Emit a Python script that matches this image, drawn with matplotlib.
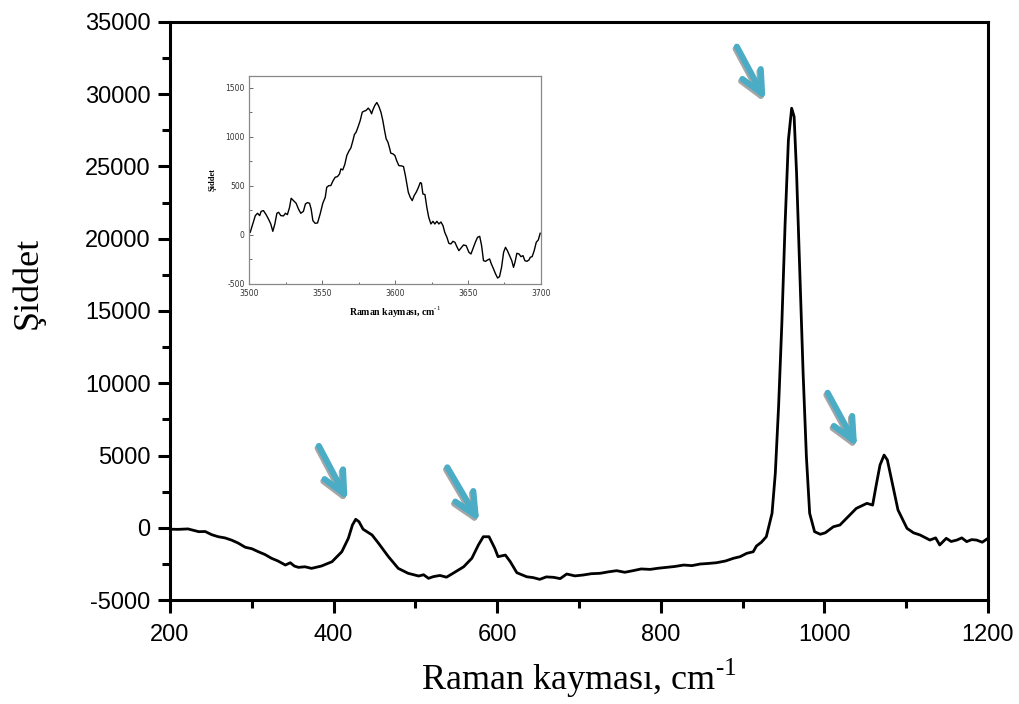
import matplotlib
matplotlib.use("Agg")
import matplotlib.pyplot as plt
import matplotlib.transforms as mtransforms
from matplotlib.ticker import MultipleLocator

plt.rcParams["axes.unicode_minus"] = False
plt.rcParams["mathtext.fontset"] = "custom"
plt.rcParams["mathtext.rm"] = "Liberation Serif"

# ana spektrum (okunan degerler)
raman_x = [200, 210, 222, 235, 243, 251, 259, 267, 275, 283, 292, 300, 308, 316,
           324, 332, 341, 347, 352, 357, 365, 373, 385, 398, 410, 418, 423, 427,
           431, 436, 447, 455, 467, 479, 491, 504, 510, 516, 522, 530, 538, 546,
           559, 569, 577, 583, 590, 597, 601, 610, 616, 624, 636, 644, 652, 660,
           669, 677, 685, 695, 705, 715, 726, 736, 746, 756, 766, 776, 787, 797,
           807, 817, 828, 838, 848, 858, 868, 879, 889, 897, 905, 913, 917, 923,
           929, 936, 940, 944, 948, 952, 956, 960, 963, 966, 970, 974, 978, 982,
           988, 995, 1001, 1011, 1019, 1027, 1039, 1052, 1059, 1063, 1068, 1073,
           1077, 1083, 1090, 1101, 1109, 1117, 1129, 1136, 1141, 1149, 1155, 1162,
           1168, 1174, 1180, 1186, 1193, 1200]
raman_y = [-100, -110, -80, -270, -260, -480, -620, -700, -850, -1050, -1350,
           -1450, -1660, -1850, -2110, -2300, -2580, -2420, -2650, -2740, -2700,
           -2810, -2650, -2350, -1660, -730, 190, 585, 420, -100, -500, -1080,
           -2000, -2810, -3150, -3340, -3250, -3500, -3380, -3300, -3420, -3150,
           -2700, -2110, -1190, -620, -620, -1420, -2000, -1890, -2350, -3110,
           -3390, -3450, -3570, -3400, -3430, -3520, -3200, -3330, -3270, -3180,
           -3150, -3050, -2970, -3080, -2970, -2850, -2880, -2800, -2740, -2680,
           -2580, -2620, -2510, -2470, -2420, -2300, -2110, -2000, -1770, -1660,
           -1260, -1000, -620, 1000, 3770, 8380, 14150, 21070, 26830, 29030,
           28450, 24530, 17610, 10690, 4920, 1000, -270, -450, -350, 70, 190, 650,
           1340, 1690, 1570, 2840, 4340, 5030, 4690, 3080, 1230, -40, -350, -500,
           -850, -700, -1190, -730, -950, -850, -700, -960, -820, -850, -1000,
           -730]

# iç grafik (3500-3700 cm-1)
inset_x = [3500.5, 3504, 3505.5, 3507, 3508, 3509.6, 3511.4, 3513, 3514.6, 3516,
           3517.4, 3518.8, 3520, 3521.5, 3523.3, 3524.7, 3526, 3527.5, 3528.6,
           3530.2, 3532, 3533.6, 3535.2, 3537, 3538.4, 3539.8, 3541.2, 3542.3,
           3543.5, 3545, 3546.7, 3548.5, 3550.3, 3552, 3553, 3554.5, 3555.8,
           3557.2, 3558.8, 3560.4, 3561.8, 3562.7, 3564, 3565.4, 3566.8, 3568.2,
           3569.6, 3571, 3572, 3573.2, 3574.6, 3576, 3577.4, 3578.7, 3580,
           3581.5, 3582.8, 3583.8, 3584.7, 3586, 3587.4, 3588.8, 3590.2, 3591.5,
           3592.7, 3593.8, 3595, 3596.1, 3597, 3598.4, 3599.8, 3601, 3602.5,
           3604.3, 3605.7, 3607, 3608, 3609, 3610.3, 3611.7, 3613, 3614.4,
           3615.8, 3617.2, 3618, 3619, 3620.4, 3621.7, 3623, 3624.5, 3625.9,
           3627.2, 3628.6, 3630, 3631.4, 3632.8, 3634, 3635.5, 3636.8, 3638.2,
           3639.6, 3641, 3642.3, 3643.7, 3645, 3646.9, 3648.7, 3650.6, 3652,
           3653.3, 3655, 3656.5, 3658, 3659.3, 3660.6, 3662, 3663.4, 3664.8,
           3666, 3667.5, 3668.9, 3670.3, 3671.6, 3673, 3674.4, 3675.7, 3677,
           3678.5, 3680, 3681.2, 3682.2, 3683.5, 3685, 3686.3, 3687.7, 3689,
           3690.4, 3691.8, 3692.7, 3694, 3695.4, 3696.8, 3698.2, 3699.5]
inset_y = [27, 197, 221, 197, 241, 248, 207, 163, 112, 37, 112, 221, 231, 197,
           194, 221, 207, 282, 374, 350, 323, 265, 221, 241, 316, 330, 323, 265,
           146, 119, 122, 214, 323, 384, 486, 503, 503, 548, 588, 595, 622, 673,
           663, 718, 810, 854, 888, 963, 1024, 1048, 1105, 1167, 1252, 1262,
           1269, 1293, 1269, 1235, 1276, 1320, 1350, 1310, 1252, 1167, 1065, 980,
           946, 888, 833, 827, 810, 758, 707, 704, 697, 605, 520, 435, 384, 350,
           401, 435, 480, 534, 527, 418, 412, 282, 180, 112, 139, 112, 139, 112,
           132, 95, 27, -24, -85, -92, -65, -75, -119, -160, -136, -102, -109,
           -177, -194, -143, -75, -24, -14, -109, -262, -269, -255, -245, -296,
           -347, -398, -439, -425, -330, -177, -126, -160, -211, -262, -330,
           -279, -187, -194, -221, -211, -262, -269, -255, -228, -221, -160, -75,
           -51, 17]

# oklar: (kuyruk x, kuyruk y, uç x, uç y)
arrow_tails = [(382, 5660), (539, 4180), (893, 33290), (1004, 9340)]
arrow_tips = [(417, 1900), (578, 420), (928, 29600), (1040, 5600)]

serif = ["Liberation Serif", "DejaVu Serif"]
xlab = "Raman kayması, cm$^{\\mathrm{\u2010}\\mathrm{1}}$"

fig = plt.figure(figsize=(10.2, 7.04), dpi=100)
ax = fig.add_axes([0.1667, 0.1477, 0.8019, 0.8211])

ax.plot(raman_x, raman_y, color="black", lw=2.0)
ax.set_xlim(200, 1200)
ax.set_ylim(-5000, 35000)
ax.xaxis.set_major_locator(MultipleLocator(200))
ax.xaxis.set_minor_locator(MultipleLocator(100))
ax.yaxis.set_major_locator(MultipleLocator(5000))
ax.yaxis.set_minor_locator(MultipleLocator(2500))
ax.tick_params(which="major", direction="out", length=9, width=2.2,
               labelsize=17, pad=5)
ax.tick_params(axis="x", which="major", pad=8)
ax.tick_params(which="minor", direction="out", length=5.5, width=2.2)
for lab in ax.get_xticklabels() + ax.get_yticklabels():
    lab.set_family("Liberation Sans")
for sp in ax.spines.values():
    sp.set_linewidth(2.2)

ax.set_xlabel(xlab, family=serif, fontsize=26, labelpad=8)
ax.set_ylabel("Şiddet", family=serif, fontsize=26)
ax.yaxis.set_label_coords(-0.153, 0.548)

style = "->,head_length=1.6,head_width=0.75"
for (tx, ty), (hx, hy) in zip(arrow_tails, arrow_tips):
    shadow = mtransforms.offset_copy(ax.transData, fig=fig, x=-0.9, y=-1.5,
                                     units="points")
    ax.annotate("", xy=(hx, hy), xytext=(tx, ty), xycoords=shadow,
                textcoords=shadow,
                arrowprops=dict(arrowstyle=style, mutation_scale=10,
                                color="#a6a6a6", lw=4.4, shrinkA=0, shrinkB=0))
    ax.annotate("", xy=(hx, hy), xytext=(tx, ty),
                arrowprops=dict(arrowstyle=style, mutation_scale=10,
                                color="#4bacc6", lw=4.4, shrinkA=0, shrinkB=0))

# iç grafik
ins = fig.add_axes([0.2446, 0.5966, 0.2857, 0.2954])
ins.plot(inset_x, inset_y, color="black", lw=1.0)
ins.set_xlim(3500, 3700)
ins.set_ylim(-500, 1620)
ins.xaxis.set_major_locator(MultipleLocator(50))
ins.xaxis.set_minor_locator(MultipleLocator(25))
ins.yaxis.set_major_locator(MultipleLocator(500))
ins.yaxis.set_minor_locator(MultipleLocator(250))
ins.tick_params(which="both", direction="in", labelsize=5.5, width=0.6,
                colors="#555555", labelcolor="#333333")
ins.tick_params(which="major", length=3)
ins.tick_params(which="minor", length=1.8)
for sp in ins.spines.values():
    sp.set_linewidth(0.9)
    sp.set_color("#888888")
ins.set_xlabel(xlab, family=serif, fontsize=7, fontweight="bold", labelpad=5)
ins.set_ylabel("Şiddet", family=serif, fontsize=6, fontweight="bold", labelpad=6)

fig.savefig("out.png", dpi=100)
